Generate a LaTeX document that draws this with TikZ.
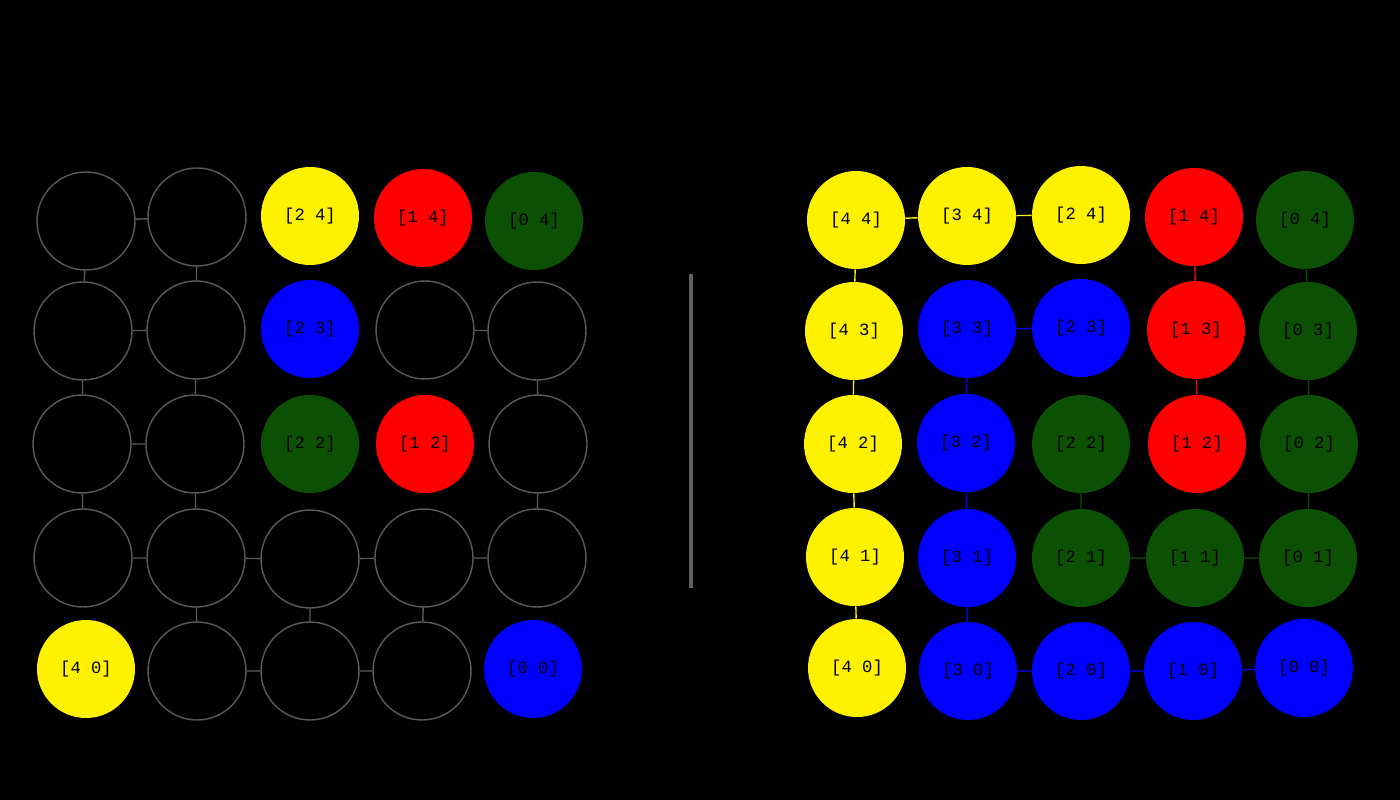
\documentclass[tikz,border=0pt]{standalone}
\usepackage{fontspec}
\newfontfamily\cellfont{Liberation Mono}
\definecolor{ring}{RGB}{90,90,90}
\definecolor{bar}{RGB}{95,95,95}
\definecolor{leaf}{RGB}{12,80,4}

\begin{document}
\begin{tikzpicture}[
    x=0.02cm, y=-0.02cm,
    cell/.style={circle, minimum size=1.96cm, inner sep=0pt, text=black,
        font=\cellfont\fontsize{9.8}{11}\selectfont},
    hole/.style={cell, draw=ring, line width=0.8pt},
    ylw/.style={cell, fill=yellow},
    rd/.style={cell, fill=red},
    blu/.style={cell, fill=blue},
    grn/.style={cell, fill=leaf},
    link/.style={line width=0.8pt}
]
\fill[black] (0,0) rectangle (1400,800);

% left grid
\node[hole] (L44) at (86,221) {};
\node[hole] (L34) at (197,217) {};
\node[ylw] (L24) at (310,216) {[2 4]};
\node[rd] (L14) at (423,218) {[1 4]};
\node[grn] (L04) at (534,221) {[0 4]};
\node[hole] (L43) at (83,331) {};
\node[hole] (L33) at (196,330) {};
\node[blu] (L23) at (310,329) {[2 3]};
\node[hole] (L13) at (425,330) {};
\node[hole] (L03) at (537,331) {};
\node[hole] (L42) at (82,444) {};
\node[hole] (L32) at (195,444) {};
\node[grn] (L22) at (310,444) {[2 2]};
\node[rd] (L12) at (425,444) {[1 2]};
\node[hole] (L02) at (538,444) {};
\node[hole] (L41) at (83,558) {};
\node[hole] (L31) at (196,558) {};
\node[hole] (L21) at (310,559) {};
\node[hole] (L11) at (424,558) {};
\node[hole] (L01) at (537,558) {};
\node[ylw] (L40) at (86,669) {[4 0]};
\node[hole] (L30) at (197,671) {};
\node[hole] (L20) at (310,671) {};
\node[hole] (L10) at (422,671) {};
\node[blu] (L00) at (533,669) {[0 0]};

\draw[link, ring] (L44) -- (L34) (L44) -- (L43) (L34) -- (L33)
    (L43) -- (L33) (L13) -- (L03) (L43) -- (L42) (L33) -- (L32) (L03) -- (L02)
    (L42) -- (L32) (L42) -- (L41) (L32) -- (L31) (L02) -- (L01)
    (L41) -- (L31) (L31) -- (L21) (L21) -- (L11) (L11) -- (L01)
    (L31) -- (L30) (L21) -- (L20) (L11) -- (L10)
    (L30) -- (L20) (L20) -- (L10);

% divider
\coordinate (top) at (691,274);
\coordinate (bot) at (691,588);
\draw[bar, line width=2.3pt] (top) -- (bot);

% right grid
\node[ylw] (R44) at (856,220) {[4 4]};
\node[ylw] (R34) at (967,216) {[3 4]};
\node[ylw] (R24) at (1081,215) {[2 4]};
\node[rd] (R14) at (1194,217) {[1 4]};
\node[grn] (R04) at (1305,220) {[0 4]};
\node[ylw] (R43) at (854,331) {[4 3]};
\node[blu] (R33) at (967,329) {[3 3]};
\node[blu] (R23) at (1081,328) {[2 3]};
\node[rd] (R13) at (1196,330) {[1 3]};
\node[grn] (R03) at (1308,331) {[0 3]};
\node[ylw] (R42) at (853,444) {[4 2]};
\node[blu] (R32) at (966,443) {[3 2]};
\node[grn] (R22) at (1081,444) {[2 2]};
\node[rd] (R12) at (1197,444) {[1 2]};
\node[grn] (R02) at (1309,444) {[0 2]};
\node[ylw] (R41) at (855,557) {[4 1]};
\node[blu] (R31) at (967,558) {[3 1]};
\node[grn] (R21) at (1081,558) {[2 1]};
\node[grn] (R11) at (1195,558) {[1 1]};
\node[grn] (R01) at (1308,558) {[0 1]};
\node[ylw] (R40) at (857,668) {[4 0]};
\node[blu] (R30) at (968,671) {[3 0]};
\node[blu] (R20) at (1081,671) {[2 0]};
\node[blu] (R10) at (1193,671) {[1 0]};
\node[blu] (R00) at (1304,668) {[0 0]};

\draw[link, yellow] (R44) -- (R34) (R34) -- (R24) (R44) -- (R43)
    (R43) -- (R42) (R42) -- (R41) (R41) -- (R40);
\draw[link, red] (R14) -- (R13) (R13) -- (R12);
\draw[link, leaf] (R04) -- (R03) (R03) -- (R02) (R02) -- (R01)
    (R22) -- (R21) (R21) -- (R11) (R11) -- (R01);
\draw[link, blue] (R33) -- (R23) (R33) -- (R32) (R32) -- (R31) (R31) -- (R30)
    (R30) -- (R20) (R20) -- (R10) (R10) -- (R00);
\end{tikzpicture}
\end{document}
